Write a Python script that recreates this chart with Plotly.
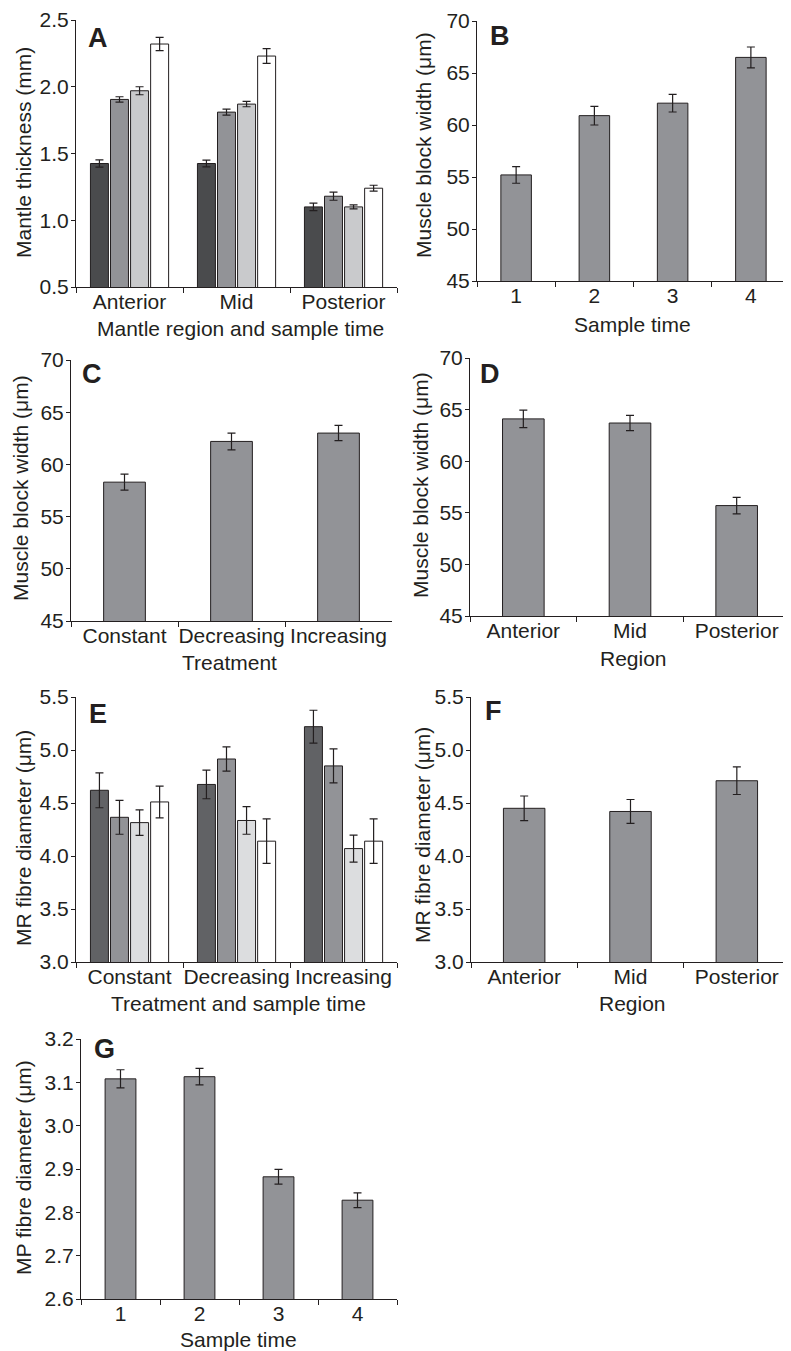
import plotly.graph_objects as go

# page offset of the plot div (default body margin) and figure size
OX, OY = 8, 8
W, H = 791 - OX, 1351 - OY
FONT = "Liberation Sans, Arial, Helvetica, sans-serif"
INK = "#231f20"

# ---------------- data ----------------
# Panel A: mantle thickness (mm) by region and sample time 1-4
a_regions = ["Anterior", "Mid", "Posterior"]
a_t1 = [1.425, 1.425, 1.10]
a_t2 = [1.905, 1.81, 1.18]
a_t3 = [1.97, 1.87, 1.10]
a_t4 = [2.32, 2.23, 1.24]
a_t1_err = [0.027, 0.025, 0.028]
a_t2_err = [0.02, 0.022, 0.03]
a_t3_err = [0.03, 0.02, 0.015]
a_t4_err = [0.05, 0.055, 0.022]

# Panel B: muscle block width by sample time
b_times = ["1", "2", "3", "4"]
b_vals = [55.2, 60.9, 62.1, 66.5]
b_err = [0.8, 0.9, 0.85, 1.0]

# Panel C: muscle block width by treatment
c_treat = ["Constant", "Decreasing", "Increasing"]
c_vals = [58.3, 62.2, 63.0]
c_err = [0.77, 0.8, 0.73]

# Panel D: muscle block width by region
d_regions = ["Anterior", "Mid", "Posterior"]
d_vals = [64.1, 63.7, 55.7]
d_err = [0.84, 0.74, 0.8]

# Panel E: MR fibre diameter by treatment and sample time 1-4
e_treat = ["Constant", "Decreasing", "Increasing"]
e_t1 = [4.62, 4.675, 5.22]
e_t2 = [4.365, 4.915, 4.85]
e_t3 = [4.315, 4.335, 4.07]
e_t4 = [4.51, 4.14, 4.14]
e_t1_err = [0.165, 0.135, 0.155]
e_t2_err = [0.16, 0.115, 0.16]
e_t3_err = [0.12, 0.13, 0.127]
e_t4_err = [0.15, 0.21, 0.21]

# Panel F: MR fibre diameter by region
f_regions = ["Anterior", "Mid", "Posterior"]
f_vals = [4.45, 4.42, 4.71]
f_err = [0.116, 0.113, 0.13]

# Panel G: MP fibre diameter by sample time
g_times = ["1", "2", "3", "4"]
g_vals = [3.108, 3.113, 2.882, 2.828]
g_err = [0.021, 0.019, 0.017, 0.017]

# ---------------- styling ----------------
A_COLORS = ["#4a4b4d", "#929397", "#c9cacc", "#ffffff"]
E_COLORS = ["#616265", "#929397", "#dcdddf", "#ffffff"]
SINGLE = "#929397"

GROUP_W = 0.168
GROUP_PITCH = 0.1875
GROUP_START = -0.365


def fx(px):
    return (px - OX) / W


def fy(py):
    return 1 - (py - OY) / H


fig = go.Figure()

# panel geometry in page pixels: (x0, x1, ytop, ybottom)
panels = {
    "A": (76, 397, 20, 287),
    "B": (477, 790, 21, 281),
    "C": (71, 392, 360, 621),
    "D": (470, 790, 358, 616),
    "E": (76, 397, 697, 962),
    "F": (471, 790, 697, 962),
    "G": (81, 397, 1039, 1299),
}
order = ["A", "B", "C", "D", "E", "F", "G"]
axid = {k: (i + 1) for i, k in enumerate(order)}


def xref(k):
    n = axid[k]
    return "x" if n == 1 else f"x{n}"


def yref(k):
    n = axid[k]
    return "y" if n == 1 else f"y{n}"


def err(arr):
    return dict(type="data", array=arr, visible=True, color=INK, thickness=1.2, width=4)


def add_group(k, cats, series, errs, colors):
    for i, (vals, e) in enumerate(zip(series, errs)):
        fig.add_trace(go.Bar(
            x=cats, y=vals, error_y=err(e),
            width=GROUP_W, offset=GROUP_START + i * GROUP_PITCH,
            marker=dict(color=colors[i], line=dict(color=INK, width=1)),
            xaxis=xref(k), yaxis=yref(k), showlegend=False,
        ))


def add_single(k, cats, vals, e):
    fig.add_trace(go.Bar(
        x=cats, y=vals, error_y=err(e), width=0.39,
        marker=dict(color=SINGLE, line=dict(color=INK, width=1)),
        xaxis=xref(k), yaxis=yref(k), showlegend=False,
    ))


add_group("A", a_regions, [a_t1, a_t2, a_t3, a_t4],
          [a_t1_err, a_t2_err, a_t3_err, a_t4_err], A_COLORS)
add_single("B", b_times, b_vals, b_err)
add_single("C", c_treat, c_vals, c_err)
add_single("D", d_regions, d_vals, d_err)
add_group("E", e_treat, [e_t1, e_t2, e_t3, e_t4],
          [e_t1_err, e_t2_err, e_t3_err, e_t4_err], E_COLORS)
add_single("F", f_regions, f_vals, f_err)
add_single("G", g_times, g_vals, g_err)

yranges = {
    "A": ([0.5, 2.5], 0.5, ".1f"),
    "B": ([45, 70], 5, "d"),
    "C": ([45, 70], 5, "d"),
    "D": ([45, 70], 5, "d"),
    "E": ([3.0, 5.5], 0.5, ".1f"),
    "F": ([3.0, 5.5], 0.5, ".1f"),
    "G": ([2.6, 3.2], 0.1, ".1f"),
}
ncats = {"A": 3, "B": 4, "C": 3, "D": 3, "E": 3, "F": 3, "G": 4}

layout = dict(
    width=W, height=H, margin=dict(l=0, r=0, t=0, b=0, autoexpand=False),
    paper_bgcolor="white", plot_bgcolor="white",
    barmode="overlay", showlegend=False,
    font=dict(family=FONT, color=INK, size=21),
)

for k in order:
    x0, x1, yt, yb = panels[k]
    n = axid[k]
    xa = "xaxis" if n == 1 else f"xaxis{n}"
    ya = "yaxis" if n == 1 else f"yaxis{n}"
    rng, dt, fmt = yranges[k]
    layout[xa] = dict(
        domain=[fx(x0), fx(x1)], anchor=yref(k), type="category",
        range=[-0.5, ncats[k] - 0.5], showline=True, linecolor=INK, linewidth=1,
        ticks="outside", tickson="boundaries", ticklen=5, tickcolor=INK,
        tickangle=0, ticklabelstandoff=-4,
        showgrid=False, zeroline=False, fixedrange=True,
        tickfont=dict(family=FONT, size=21, color=INK),
    )
    layout[ya] = dict(
        domain=[fy(yb), fy(yt)], anchor=xref(k),
        range=rng, dtick=dt, tick0=rng[0], tickformat=fmt,
        showline=True, linecolor=INK, linewidth=1,
        ticks="outside", ticklen=4, tickcolor=INK, ticklabelstandoff=-2,
        showgrid=False, zeroline=False, fixedrange=True,
        tickfont=dict(family=FONT, size=21, color=INK),
    )

fig.update_layout(**layout)

# panel letters (page pixel centers)
letters = {"A": (98, 38), "B": (500, 36), "C": (92, 374), "D": (490, 374),
           "E": (98, 714), "F": (493, 711), "G": (104, 1049)}
# y-axis titles (x center, y center)
ytitles = {
    "A": ("Mantle thickness (mm)", 23, 153),
    "B": ("Muscle block width (μm)", 423, 145),
    "C": ("Muscle block width (μm)", 21, 488),
    "D": ("Muscle block width (μm)", 420, 485),
    "E": ("MR fibre diameter (μm)", 23, 838),
    "F": ("MR fibre diameter (μm)", 422, 835),
    "G": ("MP fibre diameter (μm)", 23, 1168),
}
xtitles = {
    "A": ("Mantle region and sample time", 240, 328),
    "B": ("Sample time", 632, 324),
    "C": ("Treatment", 229, 662),
    "D": ("Region", 633, 658),
    "E": ("Treatment and sample time", 238, 1003),
    "F": ("Region", 632, 1003),
    "G": ("Sample time", 238, 1339),
}

ann = []
for k, (px, py) in letters.items():
    ann.append(dict(text=f"<b>{k}</b>", x=fx(px), y=fy(py), xref="paper", yref="paper",
                    showarrow=False, xanchor="center", yanchor="middle",
                    font=dict(family=FONT, size=27, color=INK)))
for k, (t, px, py) in ytitles.items():
    ann.append(dict(text=t, x=fx(px), y=fy(py), xref="paper", yref="paper",
                    showarrow=False, xanchor="center", yanchor="middle", textangle=-90,
                    font=dict(family=FONT, size=21, color=INK)))
for k, (t, px, py) in xtitles.items():
    ann.append(dict(text=t, x=fx(px), y=fy(py), xref="paper", yref="paper",
                    showarrow=False, xanchor="center", yanchor="middle",
                    font=dict(family=FONT, size=21, color=INK)))
fig.update_layout(annotations=ann)

fig.write_html("out.html")
